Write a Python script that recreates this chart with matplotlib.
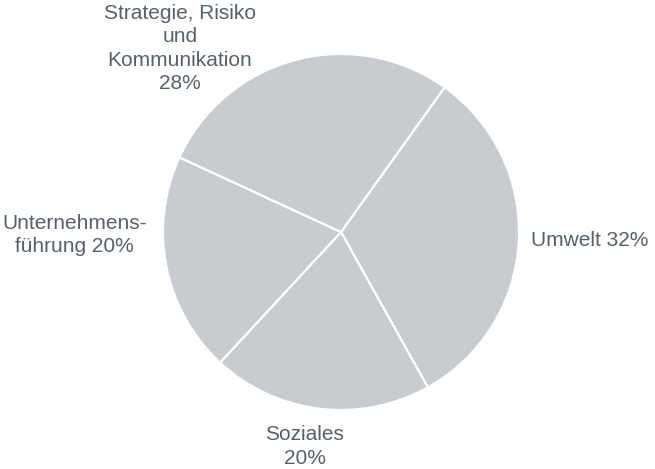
import matplotlib
matplotlib.use("Agg")
import matplotlib.pyplot as plt

kategorien = ["Umwelt", "Soziales", "Unternehmens-\nführung", "Strategie, Risiko\nund\nKommunikation"]
anteile = [32, 20, 20, 28]
beschriftungen = ["Umwelt 32%", "Soziales\n20%", "Unternehmens-\nführung 20%", "Strategie, Risiko\nund\nKommunikation\n28%"]

# Lage der Beschriftungen (Datenkoordinaten, Radius = 1)
label_pos = [(1.07, -0.05), (-0.205, -1.205), (-1.09, -0.017), (-0.904, 1.031)]
label_ha = ["left", "center", "right", "center"]

plt.rcParams["font.family"] = ["Liberation Sans", "DejaVu Sans"]

fig = plt.figure(figsize=(6.55, 4.69), dpi=100)
ax = fig.add_axes([163 / 655, 59 / 469, 356 / 655, 356 / 469])

ax.pie(anteile, startangle=54.4, counterclock=False, radius=1,
       colors=["#c8cbcf"] * len(anteile),
       wedgeprops=dict(edgecolor="white", linewidth=1.6))

for text, (x, y), ha in zip(beschriftungen, label_pos, label_ha):
    ax.text(x, y, text, ha=ha, va="center", multialignment="center",
            fontsize=15, color="#56616b", linespacing=1.3, clip_on=False)

ax.set_xlim(-1, 1)
ax.set_ylim(-1, 1)
ax.set_aspect("equal")
ax.axis("off")

fig.savefig("out.png", dpi=100)
